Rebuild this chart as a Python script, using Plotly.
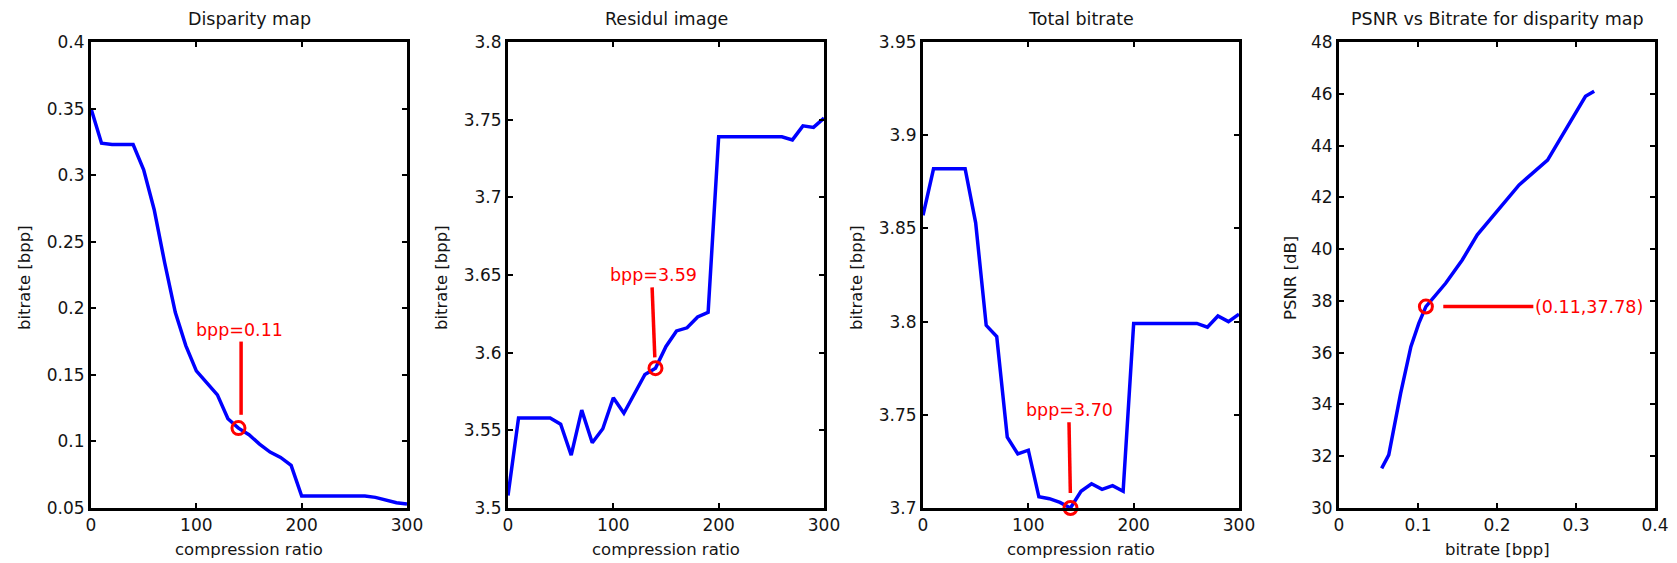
import plotly.graph_objects as go

# ---- data ----------------------------------------------------------------
compression_ratio = [0, 10, 20, 30, 40, 50, 60, 70, 80, 90, 100, 110, 120, 130, 140,
                     150, 160, 170, 180, 190, 200, 210, 220, 230, 240, 250, 260, 270,
                     280, 290, 300]

disparity_bpp = [0.350, 0.324, 0.323, 0.323, 0.323, 0.304, 0.274, 0.234, 0.197, 0.172,
                 0.153, 0.144, 0.135, 0.117, 0.110, 0.105, 0.098, 0.092, 0.088, 0.082,
                 0.059, 0.059, 0.059, 0.059, 0.059, 0.059, 0.059, 0.058, 0.056, 0.054,
                 0.053]

residual_bpp = [3.508, 3.558, 3.558, 3.558, 3.558, 3.554, 3.534, 3.563, 3.542, 3.551,
                3.571, 3.561, 3.573, 3.586, 3.590, 3.604, 3.614, 3.616, 3.623, 3.626,
                3.739, 3.739, 3.739, 3.739, 3.739, 3.739, 3.739, 3.737, 3.746, 3.745,
                3.751]

total_bpp = [3.857, 3.882, 3.882, 3.882, 3.882, 3.853, 3.798, 3.792, 3.738, 3.729,
             3.731, 3.706, 3.705, 3.703, 3.700, 3.709, 3.713, 3.710, 3.712, 3.709,
             3.799, 3.799, 3.799, 3.799, 3.799, 3.799, 3.799, 3.797, 3.803, 3.800,
             3.804]

psnr_bitrate = [0.054, 0.063, 0.078, 0.091, 0.101, 0.110, 0.135, 0.156, 0.175, 0.198,
                0.228, 0.264, 0.295, 0.312, 0.323]
psnr_db = [31.53, 32.05, 34.43, 36.23, 37.13, 37.78, 38.68, 39.58, 40.55, 41.38,
           42.48, 43.44, 44.99, 45.90, 46.10]

# highlighted operating point (compression ratio 140)
pick_ratio = 140
pick_disparity = 0.11
pick_residual = 3.59
pick_total = 3.70
pick_psnr_rate = 0.11
pick_psnr_db = 37.78

titles = ["Disparity map", "Residul image", "Total bitrate",
          "PSNR vs Bitrate for disparity map"]
x_titles = ["compression ratio", "compression ratio", "compression ratio", "bitrate [bpp]"]
y_titles = ["bitrate [bpp]", "bitrate [bpp]", "bitrate [bpp]", "PSNR [dB]"]

ratio_ticks = [0, 100, 200, 300]
ratio_ticktext = ["0", "100", "200", "300"]
rate_ticks = [0, 0.1, 0.2, 0.3, 0.4]
rate_ticktext = ["0", "0.1", "0.2", "0.3", "0.4"]
disp_ticks = [0.05, 0.1, 0.15, 0.2, 0.25, 0.3, 0.35, 0.4]
disp_ticktext = ["0.05", "0.1", "0.15", "0.2", "0.25", "0.3", "0.35", "0.4"]
resid_ticks = [3.5, 3.55, 3.6, 3.65, 3.7, 3.75, 3.8]
resid_ticktext = ["3.5", "3.55", "3.6", "3.65", "3.7", "3.75", "3.8"]
total_ticks = [3.7, 3.75, 3.8, 3.85, 3.9, 3.95]
total_ticktext = ["3.7", "3.75", "3.8", "3.85", "3.9", "3.95"]
psnr_ticks = [30, 32, 34, 36, 38, 40, 42, 44, 46, 48]
psnr_ticktext = ["30", "32", "34", "36", "38", "40", "42", "44", "46", "48"]

# ---- style ---------------------------------------------------------------
W, H = 1677, 563
FONT = "DejaVu Sans"
TXT = "#141414"
BLUE = "#0000ff"
RED = "#ff0000"


def px_x(x):
    return x / W


def px_y(y):
    return 1 - y / H


# pixel boxes of the four panels (left, right); shared top / bottom
panel_px = [(91, 407), (508, 824), (923, 1239), (1339, 1655)]
top_px, bottom_px = 42, 508
ydom = [px_y(bottom_px), px_y(top_px)]

fig = go.Figure()


def axis_style(domain, rng, tickvals, ticktext, anchor):
    return dict(
        domain=domain, range=rng, tickvals=tickvals, ticktext=ticktext,
        anchor=anchor, automargin=False,
        ticks="inside", ticklen=5, tickwidth=2, tickcolor="black",
        showline=True, linewidth=3, linecolor="black", mirror="allticks",
        showgrid=False, zeroline=False,
        tickfont=dict(family=FONT, size=17, color=TXT),
    )


panels = [
    (compression_ratio, disparity_bpp, [0, 300], [0.05, 0.4],
     ratio_ticks, ratio_ticktext, disp_ticks, disp_ticktext),
    (compression_ratio, residual_bpp, [0, 300], [3.5, 3.8],
     ratio_ticks, ratio_ticktext, resid_ticks, resid_ticktext),
    (compression_ratio, total_bpp, [0, 300], [3.7, 3.95],
     ratio_ticks, ratio_ticktext, total_ticks, total_ticktext),
    (psnr_bitrate, psnr_db, [0, 0.4], [30, 48],
     rate_ticks, rate_ticktext, psnr_ticks, psnr_ticktext),
]

annotations = []
for i, (xs, ys, xr, yr, xt, xtt, yt, ytt) in enumerate(panels):
    n = "" if i == 0 else str(i + 1)
    left, right = panel_px[i]
    xdom = [px_x(left), px_x(right)]
    fig.update_layout(**{
        f"xaxis{n}": axis_style(xdom, xr, xt, xtt, f"y{n}"),
        f"yaxis{n}": axis_style(ydom, yr, yt, ytt, f"x{n}"),
    })
    fig.add_trace(go.Scatter(x=xs, y=ys, mode="lines", xaxis=f"x{n}", yaxis=f"y{n}",
                             line=dict(color=BLUE, width=3.5), showlegend=False,
                             hoverinfo="skip"))
    cx = px_x((left + right) / 2)
    annotations.append(dict(text=titles[i], x=cx, y=px_y(19), xref="paper", yref="paper",
                            xanchor="center", yanchor="middle", showarrow=False,
                            font=dict(family=FONT, size=17.5, color=TXT)))
    annotations.append(dict(text=x_titles[i], x=cx, y=px_y(549), xref="paper", yref="paper",
                            xanchor="center", yanchor="middle", showarrow=False,
                            font=dict(family=FONT, size=16.5, color=TXT)))
    ytitle_x = px_x(left - (49 if i == 3 else 67))
    annotations.append(dict(text=y_titles[i], x=ytitle_x, y=px_y(278), xref="paper",
                            yref="paper", xanchor="center", yanchor="middle",
                            textangle=-90, showarrow=False,
                            font=dict(family=FONT, size=16.5, color=TXT)))


def pick_marker(x, y, n):
    fig.add_trace(go.Scatter(x=[x], y=[y], mode="markers", xaxis=f"x{n}", yaxis=f"y{n}",
                             marker=dict(symbol="circle-open", size=13, color=RED,
                                         line=dict(color=RED, width=3)),
                             cliponaxis=False, showlegend=False, hoverinfo="skip"))


def leader(xs, ys, n):
    fig.add_trace(go.Scatter(x=xs, y=ys, mode="lines", xaxis=f"x{n}", yaxis=f"y{n}",
                             line=dict(color=RED, width=3.5), showlegend=False,
                             hoverinfo="skip"))


def label(text, x, y, n, xanchor="center", yanchor="bottom"):
    annotations.append(dict(text=text, x=x, y=y, xref=f"x{n}", yref=f"y{n}",
                            xanchor=xanchor, yanchor=yanchor, showarrow=False,
                            font=dict(family=FONT, size=17.5, color=RED)))


# disparity map pick
leader([142.5, 142.5], [0.120, 0.175], "")
pick_marker(pick_ratio, pick_disparity, "")
label(f"bpp={pick_disparity:.2f}", 141, 0.175, "")

# residual image pick
leader([136.8, 139.4], [3.642, 3.597], "2")
pick_marker(pick_ratio, pick_residual, "2")
label(f"bpp={pick_residual:.2f}", 137.8, 3.642, "2")

# total bitrate pick
leader([138.6, 139.9], [3.746, 3.708], "3")
pick_marker(pick_ratio, pick_total, "3")
label(f"bpp={pick_total:.2f}", 139.2, 3.746, "3")

# PSNR pick
leader([0.132, 0.246], [pick_psnr_db, pick_psnr_db], "4")
pick_marker(pick_psnr_rate, pick_psnr_db, "4")
label(f"({pick_psnr_rate:.2f},{pick_psnr_db:.2f})", 0.246, pick_psnr_db, "4",
      xanchor="left", yanchor="middle")

fig.update_layout(
    width=W, height=H, margin=dict(l=0, r=0, t=0, b=0, pad=0),
    paper_bgcolor="white", plot_bgcolor="white",
    annotations=annotations, showlegend=False,
)

fig.write_html("out.html")
